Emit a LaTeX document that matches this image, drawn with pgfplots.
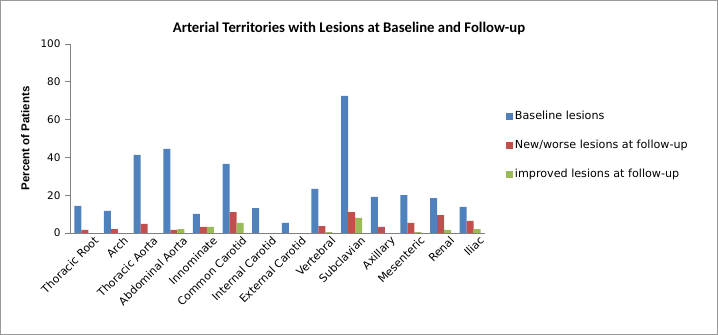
\documentclass[border=0pt]{standalone}
\usepackage{pgfplots}
\pgfplotsset{compat=1.18}
\usepackage{fontspec}
\setmainfont{DejaVu Sans}
\newfontfamily\calibri{Carlito}
\newfontfamily\labfont{Liberation Sans}
\definecolor{cblue}{HTML}{4F81BD}
\definecolor{cred}{HTML}{C0504D}
\definecolor{cgreen}{HTML}{9BBB59}
\begin{document}
\begin{tikzpicture}
\useasboundingbox (0bp,0bp) rectangle (718bp,335bp);
\draw[gray!80,line width=1bp] (0.5bp,0.5bp) rectangle (717.5bp,334.5bp);
\node[font=\calibri\fontsize{14.8}{17}\selectfont\bfseries] at (349bp,307bp) {Arterial Territories with Lesions at Baseline and Follow-up};
\begin{axis}[
  at={(70bp,102bp)}, anchor=south west,
  scale only axis, width=415bp, height=189bp,
  ybar=0pt, bar width=7bp,
  xmin=-0.5, xmax=13.5, ymin=0, ymax=100,
  ytick={0,20,40,60,80,100},
  xtick={0,...,13},
  xticklabels={Thoracic Root,Arch,Thoracic Aorta,Abdominal Aorta,Innominate,Common Carotid,Internal Carotid,External Carotid,Vertebral,Subclavian,Axillary,Mesenteric,Renal,Iliac},
  x tick label style={rotate=45, anchor=north east, inner sep=1bp, font=\fontsize{11}{13}\selectfont, xshift=9bp, yshift=-3bp},
  y tick label style={font=\fontsize{10.5}{12}\selectfont, xshift=-1bp},
  /pgf/number format/assume math mode=true,
  major x tick style={draw=none},
  ytick style={gray, line width=0.8bp},
  tick align=outside, major tick length=5bp,
  axis x line*=bottom, axis y line*=left,
  axis line style={gray, line width=0.8bp, -},
  ylabel={\bfseries Percent of Patients},
  ylabel style={font=\labfont\fontsize{11.5}{13}\selectfont, at={(axis description cs:-0.089,0.5)}},
  legend style={at={(1.05,0.655)}, anchor=north west, draw=none, fill=none,
    font=\fontsize{11.2}{13}\selectfont, row sep=15bp, inner sep=0pt,
    legend cell align=left},
  legend image code/.code={\fill[#1] (0bp,-3.5bp) rectangle (7bp,3.5bp);},
]
\addplot[fill=cblue, draw=none] coordinates {(0,14.3) (1,11.7) (2,41.3) (3,44.5) (4,10.1) (5,36.6) (6,13.2) (7,5.3) (8,23.3) (9,72.6) (10,19.1) (11,20.1) (12,18.5) (13,13.8)};
\addplot[fill=cred, draw=none] coordinates {(0,1.6) (1,2.1) (2,4.8) (3,1.6) (4,3.2) (5,11.1) (8,3.7) (9,11.1) (10,3.2) (11,5.3) (12,9.5) (13,6.4)};
\addplot[fill=cgreen, draw=none] coordinates {(3,2.1) (4,3.2) (5,5.3) (8,0.5) (9,8.0) (11,0.5) (12,1.6) (13,2.1)};
\legend{Baseline lesions, New/worse lesions at follow-up, improved lesions at follow-up}
\end{axis}
\end{tikzpicture}
\end{document}
